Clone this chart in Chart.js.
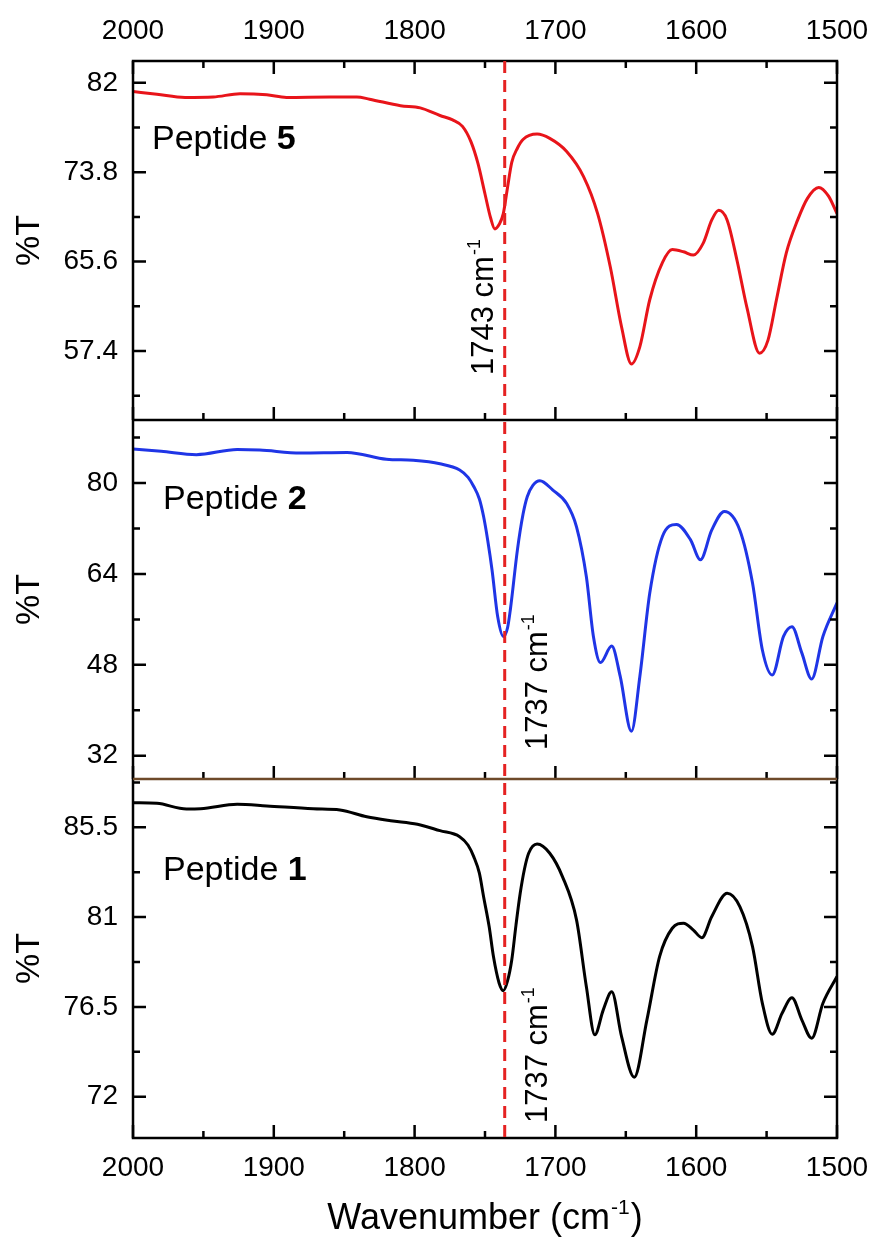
<!DOCTYPE html>
<html>
<head>
<meta charset="utf-8">
<script src="https://cdn.jsdelivr.net/npm/chart.js@4.4.0/dist/chart.umd.min.js"></script>
<style>
  html, body { margin: 0; padding: 0; background: #fff; }
  #wrap { width: 876px; height: 1241px; }
</style>
</head>
<body>
<div id="wrap"><canvas id="ftir" width="876" height="1241"></canvas></div>
<script>
// FTIR spectra, amide / ester region (x axis reversed, 2000 -> 1500 cm-1)
var p5Wavenumber = [2000,1983,1963,1943,1924,1905,1891,1860,1841,1832,1810,1796,1782,1773,1766,1760,1755,1750,1746,1743,1740,1737,1734,1731,1727,1723,1713,1704,1692,1680,1670,1661,1653,1646,1640,1633,1624,1617,1609,1602,1595,1589,1584,1578,1571,1564,1555,1549,1543,1536,1528,1521,1513,1506,1500];
var p5Transmittance = [81.2,80.95,80.66,80.7,81.0,80.9,80.66,80.7,80.7,80.5,79.9,79.7,79.0,78.6,78.0,76.6,74.6,71.8,69.6,68.6,69.0,70.0,72.4,74.7,76.0,76.8,77.3,76.9,75.7,73.4,70.0,65.1,59.6,56.2,57.8,62.1,65.5,66.7,66.5,66.2,67.3,69.4,70.3,69.4,65.7,61.4,57.2,58.4,62.1,66.4,69.4,71.4,72.4,71.6,70.0];

var p2Wavenumber = [2000,1980,1955,1926,1910,1881,1848,1820,1801,1782,1768,1762,1758,1754,1751,1748,1745,1741,1737,1734,1732,1727,1723,1720,1716,1711,1702,1692,1685,1678,1673,1668,1660,1654,1646,1640,1633,1624,1614,1604,1597,1589,1580,1569,1560,1553,1546,1538,1532,1525,1518,1510,1500];
var p2Transmittance = [86.0,85.6,85.0,85.9,85.8,85.3,85.4,84.2,84.0,83.4,82.3,81.0,79.4,77.2,74.1,69.8,64.7,56.5,53.0,54.5,57.7,68.2,74.5,77.6,79.6,80.4,78.8,76.4,72.3,63.5,53.0,48.4,51.3,46.0,36.3,46.0,60.6,70.6,72.7,70.0,66.5,71.7,75.0,71.7,62.4,50.6,46.2,53.0,54.7,50.1,45.5,53.0,58.9];

var p1Wavenumber = [2000,1983,1962,1952,1926,1905,1872,1853,1834,1817,1798,1782,1768,1762,1758,1754,1751,1747,1744,1740,1737,1734,1731,1728,1725,1722,1719,1713,1704,1695,1685,1678,1672,1666,1660,1653,1644,1635,1626,1617,1609,1602,1596,1589,1578,1569,1560,1553,1546,1539,1532,1525,1518,1510,1500];
var p1Transmittance = [86.73,86.70,86.42,86.43,86.65,86.57,86.43,86.37,86.03,85.83,85.65,85.33,85.03,84.6,84.03,83.2,82.02,80.5,79.02,77.7,77.31,77.8,78.85,80.6,82.19,83.4,84.2,84.66,84.2,83.03,80.86,77.51,75.1,76.35,77.26,75.01,72.97,75.85,79.02,80.44,80.69,80.35,79.97,81.02,82.19,81.52,79.52,76.68,75.13,76.18,76.96,75.85,74.93,76.68,78.02];

var xMajorTicks = [2000,1900,1800,1700,1600,1500];
var xMinorTicks = [1950,1850,1750,1650,1550];
var yTopTicks = [82,73.8,65.6,57.4];
var yMidTicks = [80,64,48,32];
var yBotTicks = [85.5,81,76.5,72];
var panelNames = ['5','2','1'];
var peakLabels = ['1743','1737','1737'];
var markerWavenumber = 1736;

var FONT = "'Liberation Sans', Arial, sans-serif";

function pts(xs, ys){
  return xs.map(function(x,i){ return {x:x, y:ys[i]}; });
}
function minorsOf(major, lo, hi){
  var step = Math.abs(major[0]-major[1])/2, out = [];
  var start = Math.min.apply(null, major) - step*3;
  for (var v = start; v <= hi + 1e-9; v += step*2){
    var m = +(v).toFixed(2);
    if (m > lo && m < hi && major.indexOf(m) < 0) out.push(m);
  }
  return out;
}

function xAxis(pos, h){
  return {
    type:'linear', position:pos, reverse:true, min:1500, max:2000,
    grid:{display:false, drawTicks:false}, border:{display:false},
    afterBuildTicks:function(s){ s.ticks = xMajorTicks.map(function(v){return {value:v};}); },
    afterFit:function(s){ s.height = h; s.paddingLeft = 0; s.paddingRight = 0; },
    ticks:{ autoSkip:false, maxRotation:0, padding:(pos==='top'?13:13), color:'#000',
      font:{family:FONT, size:28}, callback:function(v){ return String(v); } }
  };
}
function yAxis(min, max, ticks, weight){
  return {
    type:'linear', position:'left', stack:'ir', stackWeight:1, weight:weight, offset:false,
    min:min, max:max,
    grid:{display:false, drawTicks:false}, border:{display:false},
    afterBuildTicks:function(s){ s.ticks = ticks.map(function(v){return {value:v};}); },
    afterFit:function(s){ s.width = 133; },
    ticks:{ autoSkip:false, padding:15, color:'#000', font:{family:FONT, size:28},
      callback:function(v){ return String(v); } },
    title:{ display:true, text:'%T', color:'#000', font:{family:FONT, size:34}, padding:{top:9, bottom:0} }
  };
}

// frames, inward ticks, marker line and text labels
var decorations = {
  id:'decorations',
  afterDatasetsDraw:function(chart){
    var ctx = chart.ctx, ca = chart.chartArea, xs = chart.scales.x;
    var panels = [
      {s:chart.scales.yTop, major:yTopTicks},
      {s:chart.scales.yMid, major:yMidTicks},
      {s:chart.scales.yBot, major:yBotTicks}
    ];
    ctx.save();
    ctx.lineWidth = 2.5;
    ctx.strokeStyle = '#000';
    ctx.lineCap = 'butt';

    panels.forEach(function(p, i){
      var s = p.s;
      ctx.beginPath();
      // y ticks both sides
      p.major.forEach(function(v){
        var y = s.getPixelForValue(v);
        ctx.moveTo(ca.left, y); ctx.lineTo(ca.left+13, y);
        ctx.moveTo(ca.right, y); ctx.lineTo(ca.right-13, y);
      });
      minorsOf(p.major, s.min, s.max).forEach(function(v){
        var y = s.getPixelForValue(v);
        ctx.moveTo(ca.left, y); ctx.lineTo(ca.left+7, y);
        ctx.moveTo(ca.right, y); ctx.lineTo(ca.right-7, y);
      });
      // x ticks up from each panel bottom
      xMajorTicks.forEach(function(v){
        var x = xs.getPixelForValue(v);
        ctx.moveTo(x, s.bottom); ctx.lineTo(x, s.bottom-13);
        if (i === 0){ ctx.moveTo(x, s.top); ctx.lineTo(x, s.top+13); }
      });
      xMinorTicks.forEach(function(v){
        var x = xs.getPixelForValue(v);
        ctx.moveTo(x, s.bottom); ctx.lineTo(x, s.bottom-7);
        if (i === 0){ ctx.moveTo(x, s.top); ctx.lineTo(x, s.top+7); }
      });
      ctx.stroke();
    });

    // outer frame and separators
    ctx.strokeRect(ca.left, ca.top, ca.right-ca.left, ca.bottom-ca.top);
    ctx.beginPath();
    ctx.moveTo(ca.left, chart.scales.yMid.top); ctx.lineTo(ca.right, chart.scales.yMid.top);
    ctx.stroke();
    ctx.strokeStyle = '#6e4a2a';
    ctx.beginPath();
    ctx.moveTo(ca.left, chart.scales.yBot.top); ctx.lineTo(ca.right, chart.scales.yBot.top);
    ctx.stroke();

    // dashed marker
    var mx = xs.getPixelForValue(markerWavenumber);
    ctx.strokeStyle = '#e52222';
    ctx.lineWidth = 3;
    ctx.setLineDash([12, 7]);
    ctx.beginPath();
    ctx.moveTo(mx, ca.top); ctx.lineTo(mx, ca.bottom);
    ctx.stroke();
    ctx.setLineDash([]);

    ctx.fillStyle = '#000';
    ctx.textBaseline = 'alphabetic';
    ctx.textAlign = 'left';

    // panel names
    var nameAt = [{dx:19, dy:88}, {dx:30, dy:89}, {dx:30, dy:101}];
    panels.forEach(function(p, i){
      var x = ca.left + nameAt[i].dx, y = p.s.top + nameAt[i].dy;
      ctx.font = '34px ' + FONT;
      ctx.fillText('Peptide ', x, y);
      var w = ctx.measureText('Peptide ').width;
      ctx.font = 'bold 34px ' + FONT;
      ctx.fillText(panelNames[i], x + w, y);
    });

    // peak labels, rotated
    var peakAt = [{dx:-12, v:55.2}, {dx:42, v:33.0}, {dx:42, v:70.68}];
    panels.forEach(function(p, i){
      ctx.save();
      ctx.translate(mx + peakAt[i].dx, p.s.getPixelForValue(peakAt[i].v));
      ctx.rotate(-Math.PI/2);
      ctx.font = '31px ' + FONT;
      var t = peakLabels[i] + ' cm';
      ctx.fillText(t, 0, 0);
      var w = ctx.measureText(t).width;
      ctx.font = '18px ' + FONT;
      ctx.fillText('-1', w + 1, -13);
      ctx.restore();
    });

    // x axis title with superscript
    var main = 'Wavenumber (cm', sup = '-1', close = ')';
    ctx.font = '36px ' + FONT;
    var w1 = ctx.measureText(main).width, w3 = ctx.measureText(close).width;
    ctx.font = '21px ' + FONT;
    var w2 = ctx.measureText(sup).width;
    var tx = (ca.left + ca.right)/2 - (w1+w2+w3+2)/2, ty = 1229;
    ctx.font = '36px ' + FONT;
    ctx.fillText(main, tx, ty);
    ctx.font = '21px ' + FONT;
    ctx.fillText(sup, tx + w1 + 1, ty - 15);
    ctx.font = '36px ' + FONT;
    ctx.fillText(close, tx + w1 + w2 + 2, ty);
    ctx.restore();
  }
};

new Chart(document.getElementById('ftir'), {
  type:'line',
  data:{
    datasets:[
      {label:'Peptide 5', data:pts(p5Wavenumber, p5Transmittance), yAxisID:'yTop', borderColor:'#e8141a'},
      {label:'Peptide 2', data:pts(p2Wavenumber, p2Transmittance), yAxisID:'yMid', borderColor:'#1f35e6'},
      {label:'Peptide 1', data:pts(p1Wavenumber, p1Transmittance), yAxisID:'yBot', borderColor:'#000000'}
    ]
  },
  options:{
    responsive:false,
    animation:false,
    layout:{padding:{left:0, right:39, top:0, bottom:0}},
    plugins:{legend:{display:false}, tooltip:{enabled:false}},
    elements:{
      point:{radius:0},
      line:{borderWidth:3, cubicInterpolationMode:'monotone', fill:false}
    },
    scales:{
      x: xAxis('bottom', 103),
      xTop: xAxis('top', 61),
      yTop: yAxis(51.07, 84.0, yTopTicks, 3),
      yMid: yAxis(27.9, 91.1, yMidTicks, 2),
      yBot: yAxis(69.93, 87.92, yBotTicks, 1)
    }
  },
  plugins:[decorations]
});
</script>
</body>
</html>
